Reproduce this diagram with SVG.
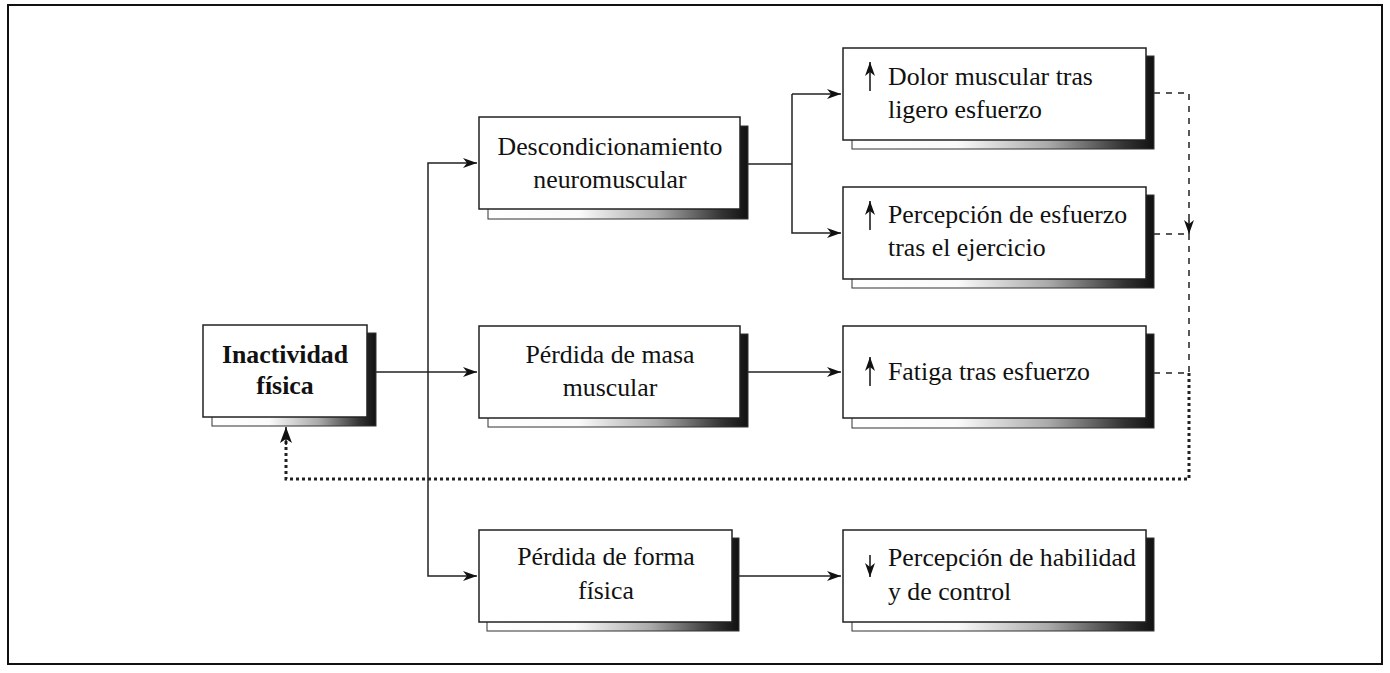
<svg xmlns="http://www.w3.org/2000/svg" width="1390" height="673" viewBox="0 0 1390 673">
<defs>
<linearGradient id="sh" x1="0" y1="0" x2="1" y2="0">
<stop offset="0" stop-color="#fff"/>
<stop offset="0.35" stop-color="#fafafa"/>
<stop offset="0.65" stop-color="#aaa"/>
<stop offset="0.9" stop-color="#333"/>
<stop offset="1" stop-color="#111"/>
</linearGradient>
<marker id="ah" markerUnits="userSpaceOnUse" markerWidth="16" markerHeight="12" refX="14" refY="5" orient="auto">
<path d="M0,0 L14,5 L0,10 L4,5 z" fill="#111"/>
</marker>
<marker id="ahb" markerUnits="userSpaceOnUse" markerWidth="18" markerHeight="14" refX="16" refY="6" orient="auto">
<path d="M0,0 L16,6 L0,12 L4,6 z" fill="#111"/>
</marker>
</defs>
<style>
.box{fill:#fff;stroke:#222;stroke-width:1.5}
.shadow{fill:url(#sh);stroke:#333;stroke-width:1}
.t{font-family:"Liberation Serif","Times New Roman",serif;font-size:25.8px;fill:#111}
.c{text-anchor:middle}
.b{font-weight:bold}
.ln{fill:none;stroke:#222;stroke-width:1.5}
.dash{fill:none;stroke:#222;stroke-width:1.5;stroke-dasharray:6,6}
.dot{fill:none;stroke:#222;stroke-width:3;stroke-dasharray:3,3}
.ar{stroke:#111;stroke-width:1.5}
</style>
<rect x="8" y="5" width="1374" height="659" fill="none" stroke="#111" stroke-width="2"/>

<g id="connectors">
<line class="ln" x1="376" y1="372" x2="477" y2="372" marker-end="url(#ah)"/>
<polyline class="ln" points="428,372 428,163 477,163" marker-end="url(#ah)"/>
<polyline class="ln" points="428,372 428,576 477,576" marker-end="url(#ah)"/>
<line class="ln" x1="748" y1="164" x2="792" y2="164"/>
<polyline class="ln" points="792,94 792,233 841,233" marker-end="url(#ah)"/>
<polyline class="ln" points="792,94 841,94" marker-end="url(#ah)"/>
<line class="ln" x1="748" y1="372" x2="841" y2="372" marker-end="url(#ah)"/>
<line class="ln" x1="739" y1="576" x2="841" y2="576" marker-end="url(#ah)"/>
<polyline class="dash" points="1154,93 1189,93 1189,233"/>
<line class="ar" x1="1189" y1="220" x2="1189" y2="234" marker-end="url(#ah)"/>
<line class="dash" x1="1154" y1="234" x2="1189" y2="234"/>
<line class="dash" x1="1189" y1="234" x2="1189" y2="373"/>
<line class="dash" x1="1154" y1="373" x2="1189" y2="373"/>
<polyline class="dot" points="1189,373 1189,479 286,479 286,440"/>
<line class="ar" x1="286" y1="445" x2="286" y2="427" marker-end="url(#ahb)"/>
</g>

<g id="inactividad">
<rect class="shadow" x="212" y="333" width="164" height="93"/>
<rect class="box" x="203" y="325" width="164" height="92"/>
<text class="t c b" x="285" y="363">Inactividad</text>
<text class="t c b" x="285" y="394">física</text>
</g>

<g id="descondicionamiento">
<rect class="shadow" x="488" y="126" width="260" height="93"/>
<rect class="box" x="479" y="117" width="261" height="92"/>
<text class="t c" x="610" y="155">Descondicionamiento</text>
<text class="t c" x="610" y="188">neuromuscular</text>
</g>

<g id="perdida-masa">
<rect class="shadow" x="488" y="334" width="260" height="93"/>
<rect class="box" x="479" y="326" width="261" height="92"/>
<text class="t c" x="610" y="363">Pérdida de masa</text>
<text class="t c" x="610" y="396">muscular</text>
</g>

<g id="perdida-forma">
<rect class="shadow" x="487" y="538" width="252" height="93"/>
<rect class="box" x="479" y="530" width="253" height="92"/>
<text class="t c" x="606" y="565">Pérdida de forma</text>
<text class="t c" x="606" y="599">física</text>
</g>

<g id="dolor">
<rect class="shadow" x="852" y="56" width="302" height="93"/>
<rect class="box" x="843" y="48" width="303" height="92"/>
<line class="ar" x1="870" y1="91" x2="870" y2="62" marker-end="url(#ah)"/>
<text class="t" x="888" y="85">Dolor muscular tras</text>
<text class="t" x="888" y="118">ligero esfuerzo</text>
</g>

<g id="percepcion-esfuerzo">
<rect class="shadow" x="852" y="195" width="302" height="93"/>
<rect class="box" x="843" y="187" width="303" height="92"/>
<line class="ar" x1="870" y1="230" x2="870" y2="201" marker-end="url(#ah)"/>
<text class="t" x="888" y="223">Percepción de esfuerzo</text>
<text class="t" x="888" y="256">tras el ejercicio</text>
</g>

<g id="fatiga">
<rect class="shadow" x="852" y="334" width="302" height="94"/>
<rect class="box" x="843" y="326" width="303" height="92"/>
<line class="ar" x1="870" y1="386" x2="870" y2="357" marker-end="url(#ah)"/>
<text class="t" x="888" y="380">Fatiga tras esfuerzo</text>
</g>

<g id="percepcion-habilidad">
<rect class="shadow" x="852" y="538" width="302" height="93"/>
<rect class="box" x="843" y="530" width="303" height="92"/>
<line class="ar" x1="870" y1="555" x2="870" y2="577" marker-end="url(#ah)"/>
<text class="t" x="888" y="566">Percepción de habilidad</text>
<text class="t" x="888" y="600">y de control</text>
</g>
</svg>
